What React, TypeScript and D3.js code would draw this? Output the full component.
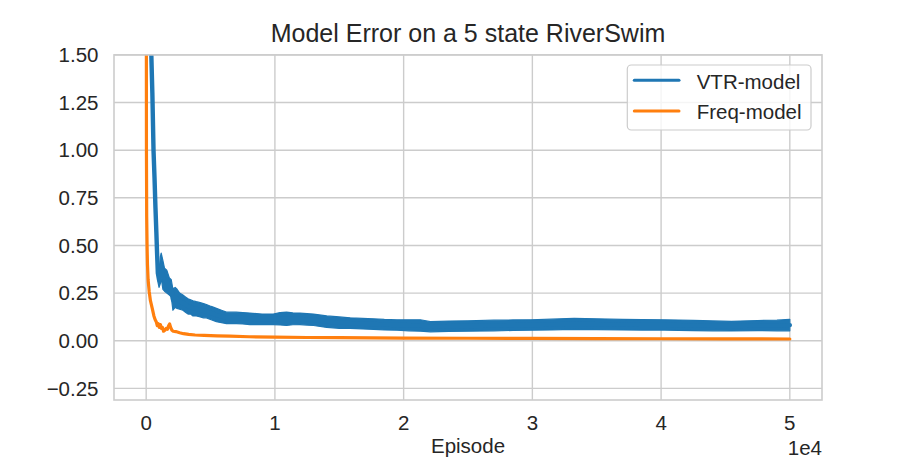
import React from "react";
import * as d3 from "d3";

// ---------- data ----------
const title = "Model Error on a 5 state RiverSwim";
const xLabel = "Episode";
const xOffsetText = "1e4";
const seriesNames = ["VTR-model", "Freq-model"];
const seriesColors = ["#1f77b4", "#ff7f0e"];

const xTicks = [0, 10000, 20000, 30000, 40000, 50000];
const xTickLabels = ["0", "1", "2", "3", "4", "5"];
const yTicks = [-0.25, 0, 0.25, 0.5, 0.75, 1.0, 1.25, 1.5];
const yTickLabels = ["\u22120.25", "0.00", "0.25", "0.50", "0.75", "1.00", "1.25", "1.50"];

// VTR-model: noisy band (lower / upper envelope of the curve) per episode
const vtrEpisodes = [
  0, 400, 480, 570, 650, 720, 790, 840, 906, 1000, 1100, 1166, 1300, 1426, 1600, 1800,
  1949, 2076, 2250, 2400, 2600, 2855, 3050, 3250, 3450, 3635, 3900, 4200, 4450, 4676,
  5050, 5456, 5850, 6235, 7000, 7500, 8051, 9000, 9867, 10400, 10900, 11400, 11948, 12500,
  13000, 14030, 15000, 15845, 16800, 17662, 18500, 19485, 20400, 21301, 22080, 23500,
  25000, 27000, 28500, 29874, 31500, 33250, 35000, 37000, 38500, 40265, 42500, 44000,
  45463, 47500, 49000, 50000,
];
const vtrLow = [
  5.0, 1.5, 1.3, 1.0, 0.85, 0.7, 0.57, 0.47, 0.31, 0.28, 0.3, 0.33, 0.27, 0.26, 0.25, 0.24,
  0.23, 0.16, 0.175, 0.17, 0.165, 0.16, 0.15, 0.14, 0.14, 0.13, 0.13, 0.125, 0.12, 0.12,
  0.11, 0.1, 0.095, 0.09, 0.09, 0.088, 0.085, 0.085, 0.085, 0.083, 0.08, 0.084, 0.085, 0.082,
  0.08, 0.07, 0.065, 0.065, 0.062, 0.06, 0.057, 0.055, 0.052, 0.05, 0.047, 0.049,
  0.05, 0.052, 0.054, 0.055, 0.057, 0.06, 0.058, 0.057, 0.056, 0.056, 0.053, 0.052,
  0.051, 0.053, 0.052, 0.052,
];
const vtrHigh = [
  5.0, 1.5, 1.3, 1.0, 0.85, 0.7, 0.57, 0.47, 0.4, 0.36, 0.44, 0.46, 0.42, 0.38, 0.37, 0.33,
  0.32, 0.27, 0.28, 0.27, 0.25, 0.24, 0.23, 0.22, 0.215, 0.21, 0.205, 0.2, 0.195, 0.19,
  0.18, 0.17, 0.16, 0.15, 0.15, 0.148, 0.145, 0.14, 0.14, 0.148, 0.15, 0.146, 0.145, 0.142,
  0.14, 0.13, 0.125, 0.12, 0.117, 0.115, 0.112, 0.11, 0.11, 0.11, 0.1, 0.103,
  0.105, 0.108, 0.109, 0.11, 0.113, 0.118, 0.115, 0.112, 0.111, 0.11, 0.107, 0.104,
  0.102, 0.106, 0.108, 0.112,
];

// Freq-model curve
const freqEpisodes = [
  0, 20, 40, 70, 100, 150, 230, 330, 470, 600, 700, 780, 860, 940, 1020, 1100, 1180, 1260,
  1350, 1450, 1550, 1650, 1750, 1820, 1900, 2000, 2100, 2300, 2600, 2900, 3300, 3800, 4500,
  5500, 6500, 8000, 10000, 12500, 15000, 17500, 20000, 25000, 30000, 35000, 40000, 45000, 50000,
];
const freqValues = [
  3.0, 1.0, 0.65, 0.5, 0.4, 0.32, 0.26, 0.21, 0.17, 0.13, 0.11, 0.1, 0.08, 0.09, 0.07, 0.085,
  0.065, 0.07, 0.05, 0.055, 0.065, 0.06, 0.08, 0.088, 0.07, 0.055, 0.05, 0.048, 0.042, 0.037,
  0.033, 0.03, 0.028, 0.026, 0.024, 0.021, 0.019, 0.017, 0.016, 0.015, 0.014, 0.013, 0.012,
  0.011, 0.0105, 0.0098, 0.009,
];

// ---------- layout ----------
const W = 913;
const H = 457;
const left = 114;
const right = 822;
const top = 54.9;
const bottom = 400;
const FONT = "'Liberation Sans', Arial, Helvetica, sans-serif";
const TEXT = "#262626";
const GRID = "#cccccc";

export default function App() {
  const x = d3.scaleLinear().domain([-2500, 52500]).range([left, right]);
  const y = d3.scaleLinear().domain([-0.311, 1.5]).range([bottom, top]);

  const vtr = vtrEpisodes.map((e, i) => ({ e, lo: vtrLow[i], hi: vtrHigh[i] }));
  const freq = freqEpisodes.map((e, i) => ({ e, v: freqValues[i] }));

  const band = d3
    .area<{ e: number; lo: number; hi: number }>()
    .x((d) => x(d.e))
    .y0((d) => y(d.lo))
    .y1((d) => y(d.hi));
  const mid = d3
    .line<{ e: number; lo: number; hi: number }>()
    .x((d) => x(d.e))
    .y((d) => y((d.lo + d.hi) / 2));
  const fLine = d3
    .line<{ e: number; v: number }>()
    .x((d) => x(d.e))
    .y((d) => y(d.v));

  const cx = (left + right) / 2;

  return (
    <svg
      width={W}
      height={H}
      style={{ position: "absolute", left: 0, top: 0, display: "block", background: "#fff" }}
      fontFamily={FONT}
    >
      <defs>
        <clipPath id="plotclip">
          <rect x={left} y={top} width={right - left} height={bottom - top} />
        </clipPath>
      </defs>
      <rect x={0} y={0} width={W} height={H} fill="#fff" />

      {/* grid */}
      {yTicks.map((t) => (
        <line key={"gy" + t} x1={left} x2={right} y1={y(t)} y2={y(t)} stroke={GRID} strokeWidth={1.4} />
      ))}
      {xTicks.map((t) => (
        <line key={"gx" + t} x1={x(t)} x2={x(t)} y1={top} y2={bottom} stroke={GRID} strokeWidth={1.4} />
      ))}

      {/* data */}
      <g clipPath="url(#plotclip)">
        <path d={band(vtr) || ""} fill={seriesColors[0]} stroke={seriesColors[0]} strokeWidth={1.2} strokeLinejoin="round" />
        <path d={mid(vtr) || ""} fill="none" stroke={seriesColors[0]} strokeWidth={4.4} strokeLinejoin="round" strokeLinecap="round" />
        <path d={fLine(freq) || ""} fill="none" stroke={seriesColors[1]} strokeWidth={3.2} strokeLinejoin="round" strokeLinecap="round" />
      </g>

      {/* spines */}
      <rect x={left} y={top} width={right - left} height={bottom - top} fill="none" stroke={GRID} strokeWidth={1.6} />

      {/* y tick labels */}
      {yTicks.map((t, i) => (
        <text key={"ty" + t} x={98.5} y={y(t) + 7.3} textAnchor="end" fontSize={20.5} fill={TEXT}>
          {yTickLabels[i]}
        </text>
      ))}
      {/* x tick labels */}
      {xTicks.map((t, i) => (
        <text key={"tx" + t} x={x(t)} y={430} textAnchor="middle" fontSize={20.5} fill={TEXT}>
          {xTickLabels[i]}
        </text>
      ))}
      <text x={right} y={454.5} textAnchor="end" fontSize={20.5} fill={TEXT}>
        {xOffsetText}
      </text>
      <text x={cx} y={452.5} textAnchor="middle" fontSize={20.5} fill={TEXT}>
        {xLabel}
      </text>

      {/* title */}
      <text x={cx} y={41.7} textAnchor="middle" fontSize={25} fill={TEXT}>
        {title}
      </text>

      {/* legend */}
      <rect x={627.3} y={65} width={183.7} height={65} rx={4} ry={4} fill="#fff" fillOpacity={0.8} stroke={GRID} strokeWidth={1.2} />
      {seriesNames.map((n, i) => (
        <g key={n}>
          <line x1={634.3} x2={679} y1={80.3 + i * 30.7} y2={80.3 + i * 30.7} stroke={seriesColors[i]} strokeWidth={3} strokeLinecap="round" />
          <text x={696.7} y={89.3 + i * 30} fontSize={20.5} fill={TEXT}>
            {n}
          </text>
        </g>
      ))}
    </svg>
  );
}
